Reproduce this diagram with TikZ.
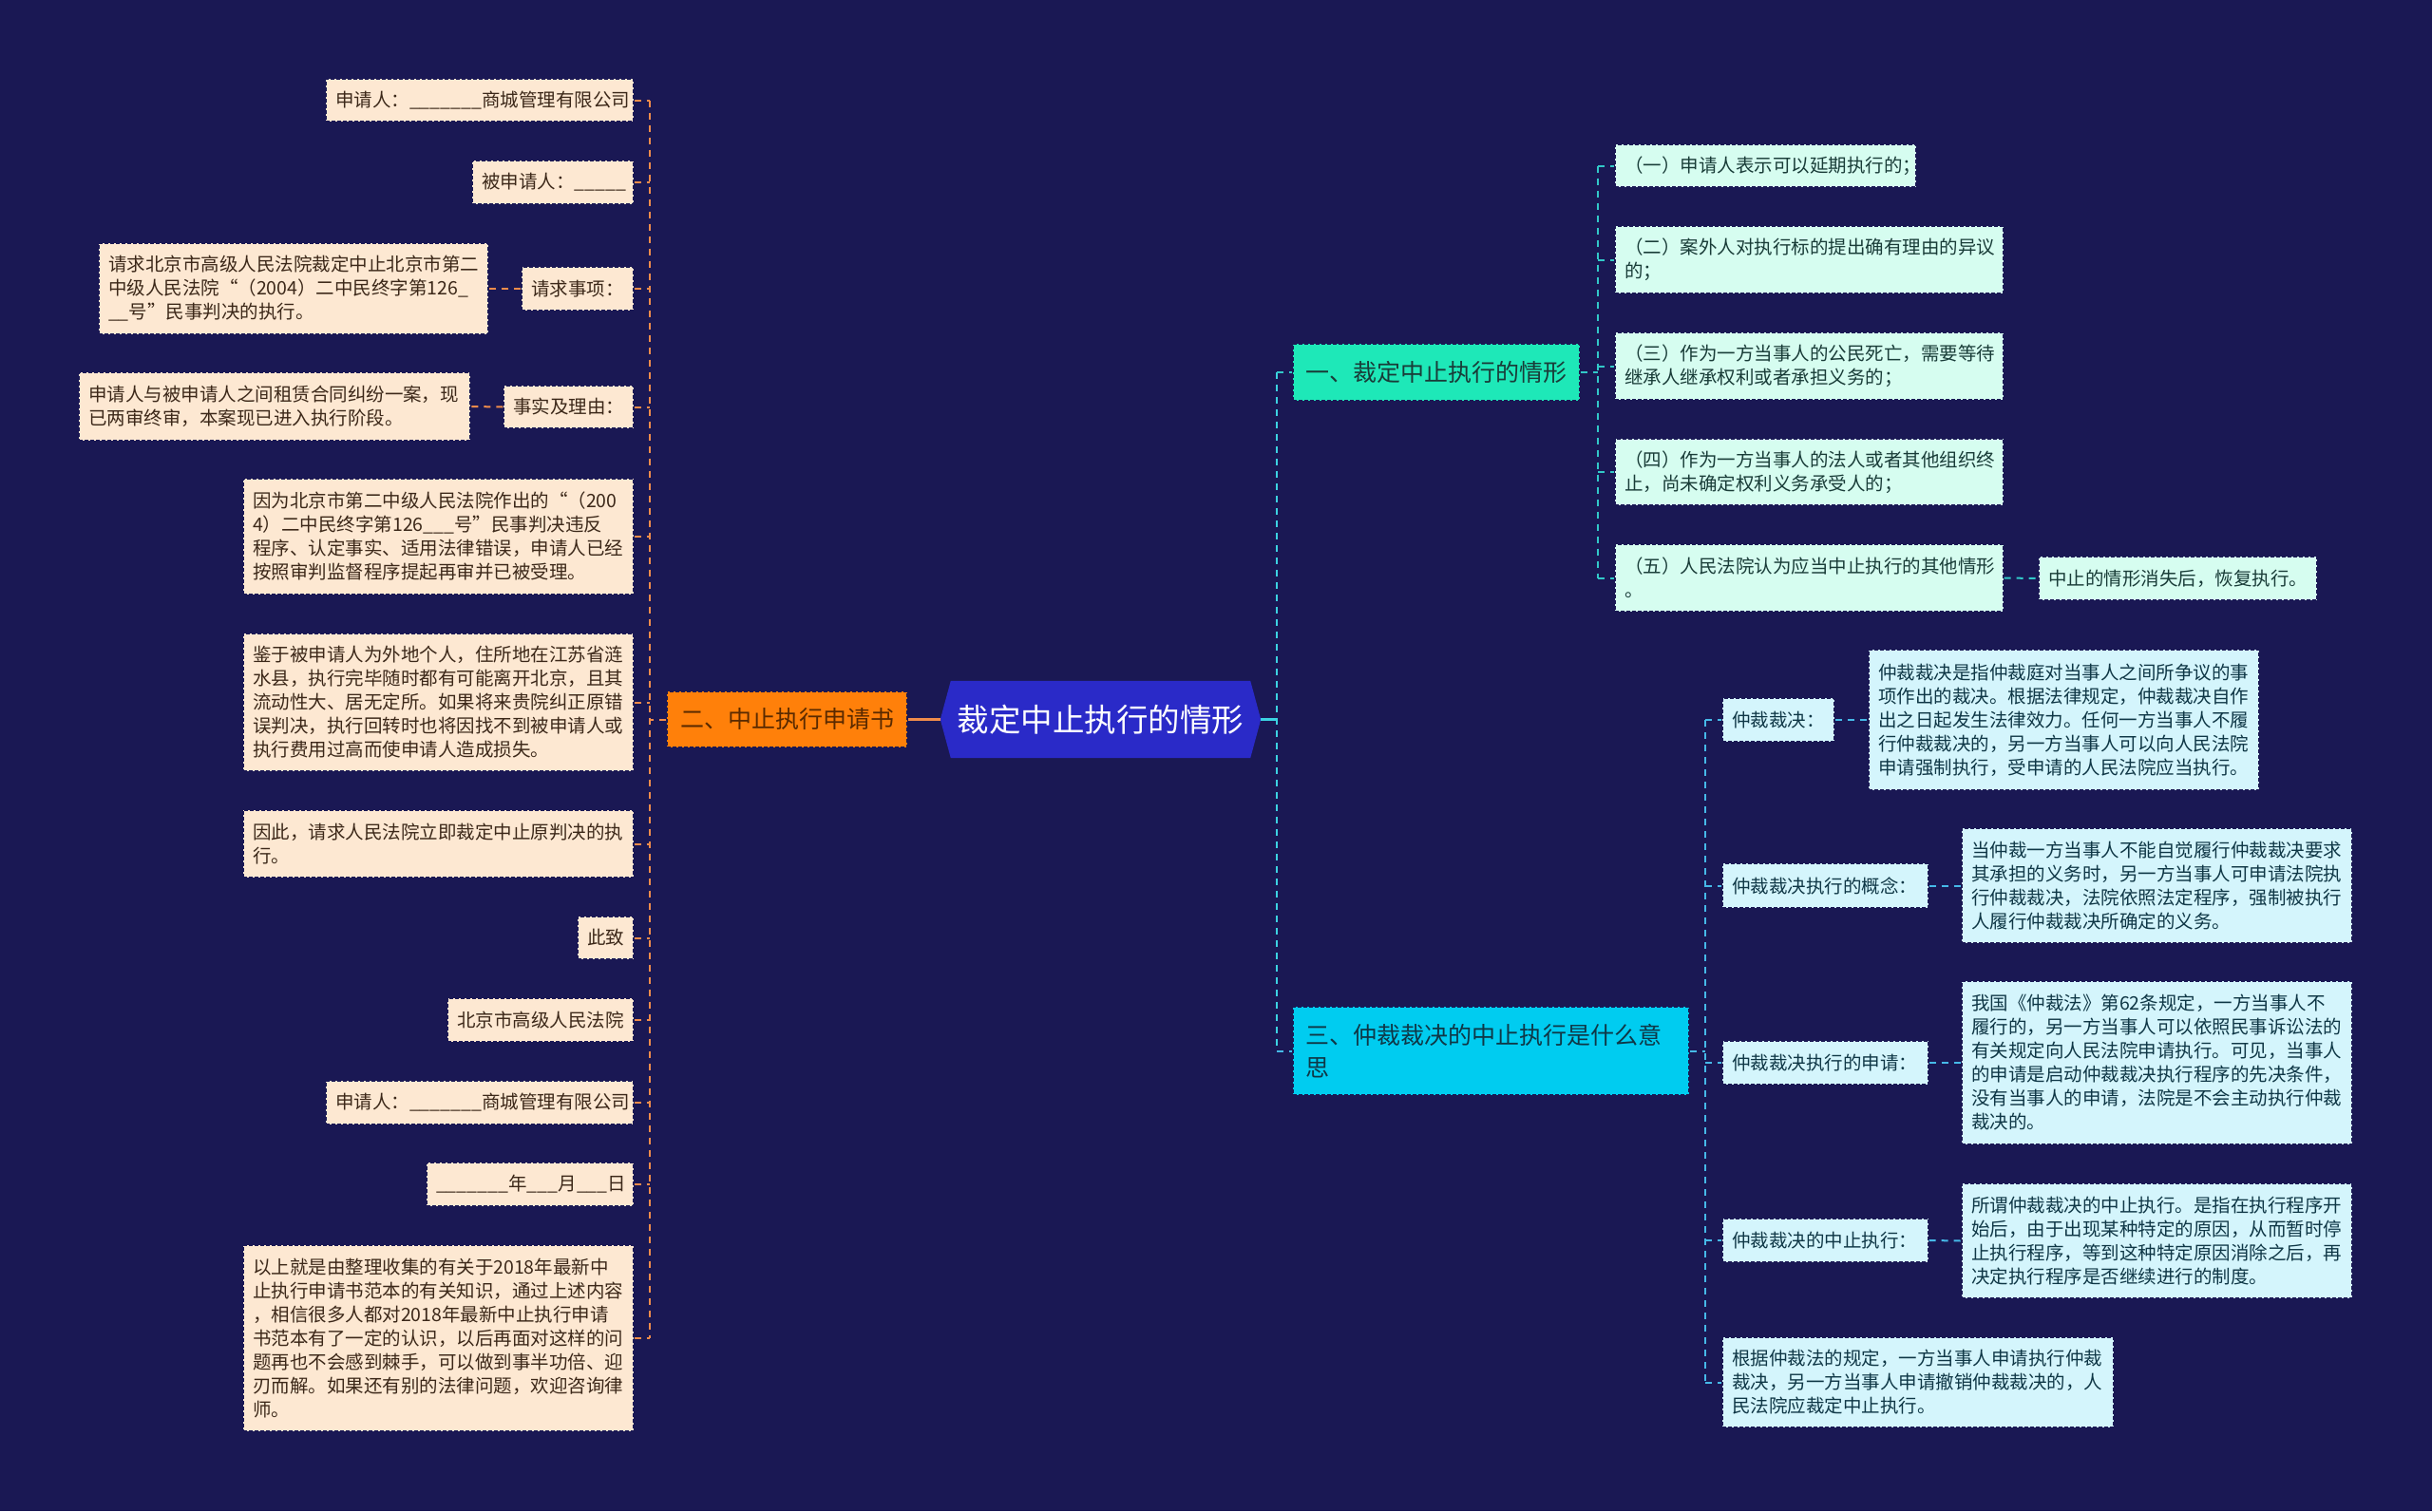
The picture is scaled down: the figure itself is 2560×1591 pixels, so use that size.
\documentclass[tikz,border=0pt]{standalone}
\usepackage{fontspec}
\setmainfont{Noto Sans CJK SC}
\definecolor{bgc}{RGB}{26,24,84}
\definecolor{rootc}{RGB}{42,42,200}
\definecolor{orangec}{RGB}{255,128,10}
\definecolor{peach}{RGB}{253,232,210}
\definecolor{ltext}{RGB}{60,40,25}
\definecolor{otext}{RGB}{90,42,0}
\definecolor{lline}{RGB}{240,140,75}
\definecolor{b1c}{RGB}{30,232,184}
\definecolor{mint}{RGB}{214,253,240}
\definecolor{atext}{RGB}{25,60,56}
\definecolor{aline}{RGB}{50,200,200}
\definecolor{b3c}{RGB}{0,204,240}
\definecolor{ice}{RGB}{212,245,252}
\definecolor{ctext}{RGB}{15,55,70}
\definecolor{cline}{RGB}{70,185,232}
\definecolor{rline}{RGB}{60,210,225}
\pgfdeclarelayer{bglayer}
\pgfsetlayers{bglayer,main}
\tikzset{
  boxbase/.style={rectangle, inner xsep=10pt, inner ysep=2pt, align=left,
    font=\fontsize{19.5}{25}\selectfont, draw=bgc, dash pattern=on 4pt off 2pt, line width=1.2pt},
  lleaf/.style={boxbase, fill=peach, text=ltext},
  aleaf/.style={boxbase, fill=mint, text=atext},
  cleaf/.style={boxbase, fill=ice, text=ctext},
  branch/.style={rectangle, inner xsep=13pt, inner ysep=2pt, align=left,
    font=\fontsize{25}{34}\selectfont, draw=bgc, dash pattern=on 4pt off 2pt, line width=1.2pt},
  lcon/.style={draw=lline, line width=2pt, dash pattern=on 7pt off 6pt},
  acon/.style={draw=aline, line width=2pt, dash pattern=on 7pt off 6pt},
  ccon/.style={draw=cline, line width=2pt, dash pattern=on 7pt off 6pt},
  rcon/.style={draw=rline, line width=2pt, dash pattern=on 7pt off 6pt},
}
\begin{document}
\begin{tikzpicture}[x=1pt,y=-1pt]
\begin{pgfonlayer}{bglayer}
\fill[bgc] (0,0) rectangle (2560,1591);
\end{pgfonlayer}
\useasboundingbox (0,0) rectangle (2560,1591);

% root
\node[rectangle, minimum width=337pt, minimum height=81pt, inner sep=0pt, text=white,
  font=\fontsize{33.5}{40}\selectfont] (root) at (1158.5,757.5) {裁定中止执行的情形};
\begin{pgfonlayer}{bglayer}
\fill[rootc] (root.west) -- ([xshift=11pt]root.north west) -- ([xshift=-11pt]root.north east)
  -- (root.east) -- ([xshift=-11pt]root.south east) -- ([xshift=11pt]root.south west) -- cycle;
\end{pgfonlayer}

% coordinates of trunks
\coordinate (lt) at (684,757.5);
\coordinate (rt) at (1344,757.5);
\coordinate (t1) at (1682,392);
\coordinate (t3) at (1795,1106.5);

% left branch
\node[branch, fill=orangec, text=otext, minimum width=253pt, minimum height=59pt] (B2) at (828.5,757.5) {二、中止执行申请书};

\node[lleaf, minimum width=324pt, minimum height=45pt, text width=304pt] (L1) at (505,105.5) {申请人：\_\_\_\_\_\_\_商城管理有限公司};
\node[lleaf, minimum width=170pt, minimum height=46pt, text width=150pt] (L2) at (582,192) {被申请人：\_\_\_\_\_};
\node[lleaf, minimum width=118pt, minimum height=46pt, text width=98pt] (L3) at (608,304) {请求事项：};
\node[lleaf, minimum width=410pt, minimum height=96pt, text width=390pt] (L3c) at (309,304) {请求北京市高级人民法院裁定中止北京市第二\\中级人民法院“（2004）二中民终字第126\_\\\_\_号”民事判决的执行。};
\node[lleaf, minimum width=137pt, minimum height=45pt, text width=117pt] (L4) at (598.5,428.5) {事实及理由：};
\node[lleaf, minimum width=412pt, minimum height=72pt, text width=392pt] (L4c) at (289,428) {申请人与被申请人之间租赁合同纠纷一案，现\\已两审终审，本案现已进入执行阶段。};
\node[lleaf, minimum width=411pt, minimum height=122pt, text width=391pt] (L5) at (461.5,565) {因为北京市第二中级人民法院作出的“（200\\4）二中民终字第126\_\_\_号”民事判决违反\\程序、认定事实、适用法律错误，申请人已经\\按照审判监督程序提起再审并已被受理。};
\node[lleaf, minimum width=411pt, minimum height=145pt, text width=391pt] (L6) at (461.5,739.5) {鉴于被申请人为外地个人，住所地在江苏省涟\\水县，执行完毕随时都有可能离开北京，且其\\流动性大、居无定所。如果将来贵院纠正原错\\误判决，执行回转时也将因找不到被申请人或\\执行费用过高而使申请人造成损失。};
\node[lleaf, minimum width=411pt, minimum height=71pt, text width=391pt] (L7) at (461.5,888.5) {因此，请求人民法院立即裁定中止原判决的执\\行。};
\node[lleaf, minimum width=59pt, minimum height=45pt, text width=39pt] (L8) at (637.5,987.5) {此致};
\node[lleaf, minimum width=196pt, minimum height=46pt, text width=176pt] (L9) at (569,1074) {北京市高级人民法院};
\node[lleaf, minimum width=324pt, minimum height=46pt, text width=304pt] (L10) at (505,1161) {申请人：\_\_\_\_\_\_\_商城管理有限公司};
\node[lleaf, minimum width=218pt, minimum height=46pt, text width=198pt] (L11) at (558,1247) {\_\_\_\_\_\_\_年\_\_\_月\_\_\_日};
\node[lleaf, minimum width=411pt, minimum height=196pt, text width=391pt] (L12) at (461.5,1409) {以上就是由整理收集的有关于2018年最新中\\止执行申请书范本的有关知识，通过上述内容\\，相信很多人都对2018年最新中止执行申请\\书范本有了一定的认识，以后再面对这样的问\\题再也不会感到棘手，可以做到事半功倍、迎\\刃而解。如果还有别的法律问题，欢迎咨询律\\师。};

% right branch 1
\node[branch, fill=b1c, text=atext, minimum width=302pt, minimum height=60pt] (B1) at (1512,392) {一、裁定中止执行的情形};
\node[aleaf, minimum width=317pt, minimum height=45pt, text width=297pt] (A1) at (1858.5,174.5) {（一）申请人表示可以延期执行的；};
\node[aleaf, minimum width=409pt, minimum height=71pt, text width=389pt] (A2) at (1904.5,273.5) {（二）案外人对执行标的提出确有理由的异议\\的；};
\node[aleaf, minimum width=409pt, minimum height=71pt, text width=389pt] (A3) at (1904.5,385.5) {（三）作为一方当事人的公民死亡，需要等待\\继承人继承权利或者承担义务的；};
\node[aleaf, minimum width=409pt, minimum height=70pt, text width=389pt] (A4) at (1904.5,497) {（四）作为一方当事人的法人或者其他组织终\\止，尚未确定权利义务承受人的；};
\node[aleaf, minimum width=409pt, minimum height=71pt, text width=389pt] (A5) at (1904.5,608.5) {（五）人民法院认为应当中止执行的其他情形\\。};
\node[aleaf, minimum width=293pt, minimum height=46pt, text width=273pt] (A5c) at (2292.5,609) {中止的情形消失后，恢复执行。};

% right branch 3
\node[branch, fill=b3c, text=ctext, minimum width=417pt, minimum height=93pt, text width=391pt] (B3) at (1569.5,1106.5) {三、仲裁裁决的中止执行是什么意\\思};
\node[cleaf, minimum width=118pt, minimum height=46pt, text width=98pt] (C1) at (1872,758) {仲裁裁决：};
\node[cleaf, minimum width=411pt, minimum height=148pt, text width=391pt] (C1c) at (2172.5,758) {仲裁裁决是指仲裁庭对当事人之间所争议的事\\项作出的裁决。根据法律规定，仲裁裁决自作\\出之日起发生法律效力。任何一方当事人不履\\行仲裁裁决的，另一方当事人可以向人民法院\\申请强制执行，受申请的人民法院应当执行。};
\node[cleaf, minimum width=217pt, minimum height=47pt, text width=197pt] (C2) at (1921.5,932.5) {仲裁裁决执行的概念：};
\node[cleaf, minimum width=411pt, minimum height=121pt, text width=391pt] (C2c) at (2270.5,932.5) {当仲裁一方当事人不能自觉履行仲裁裁决要求\\其承担的义务时，另一方当事人可申请法院执\\行仲裁裁决，法院依照法定程序，强制被执行\\人履行仲裁裁决所确定的义务。};
\node[cleaf, minimum width=217pt, minimum height=46pt, text width=197pt] (C3) at (1921.5,1119) {仲裁裁决执行的申请：};
\node[cleaf, minimum width=411pt, minimum height=172pt, text width=391pt] (C3c) at (2270.5,1119) {我国《仲裁法》第62条规定，一方当事人不\\履行的，另一方当事人可以依照民事诉讼法的\\有关规定向人民法院申请执行。可见，当事人\\的申请是启动仲裁裁决执行程序的先决条件，\\没有当事人的申请，法院是不会主动执行仲裁\\裁决的。};
\node[cleaf, minimum width=217pt, minimum height=46pt, text width=197pt] (C4) at (1921.5,1306) {仲裁裁决的中止执行：};
\node[cleaf, minimum width=411pt, minimum height=121pt, text width=391pt] (C4c) at (2270.5,1306.5) {所谓仲裁裁决的中止执行。是指在执行程序开\\始后，由于出现某种特定的原因，从而暂时停\\止执行程序，等到这种特定原因消除之后，再\\决定执行程序是否继续进行的制度。};
\node[cleaf, minimum width=412pt, minimum height=95pt, text width=392pt] (C5) at (2019,1455.5) {根据仲裁法的规定，一方当事人申请执行仲裁\\裁决，另一方当事人申请撤销仲裁裁决的，人\\民法院应裁定中止执行。};

% ---- connectors left
\draw[draw=lline, line width=2.5pt] (root.west) -- (B2.east);
\draw[lcon] (B2.west) -- (B2.west -| lt);
\draw[lcon] (L1.east -| lt) -- (L12.east -| lt);
\foreach \n in {L1,L2,L3,L4,L5,L6,L7,L8,L9,L10,L11,L12}
  \draw[lcon] (\n.east) -- (\n.east -| lt);
\draw[lcon] (L3.west) -- (L3c.east);
\draw[lcon] (L4.west) -- (L4c.east);

% ---- connectors right
\draw[draw=rline, line width=2.5pt] (root.east) -- (root.east -| rt);
\draw[rcon] (B1.west -| rt) -- (B3.west -| rt);
\draw[acon] (B1.west -| rt) -- (B1.west);
\draw[ccon] (B3.west -| rt) -- (B3.west);

\draw[acon] (B1.east) -- (B1.east -| t1);
\draw[acon] (A1.west -| t1) -- (A5.west -| t1);
\foreach \n in {A1,A2,A3,A4,A5}
  \draw[acon] (\n.west -| t1) -- (\n.west);
\draw[acon] (A5.east) -- (A5c.west);

\draw[ccon] (B3.east) -- (B3.east -| t3);
\draw[ccon] (C1.west -| t3) -- (C5.west -| t3);
\foreach \n in {C1,C2,C3,C4,C5}
  \draw[ccon] (\n.west -| t3) -- (\n.west);
\draw[ccon] (C1.east) -- (C1c.west);
\draw[ccon] (C2.east) -- (C2c.west);
\draw[ccon] (C3.east) -- (C3c.west);
\draw[ccon] (C4.east) -- (C4c.west);
\end{tikzpicture}
\end{document}
